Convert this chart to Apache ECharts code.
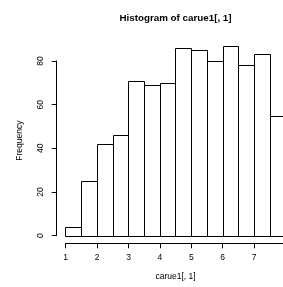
<!DOCTYPE html>
<html lang="en">
  <head>
    <meta charset="UTF-8">
    <title>Histogram</title>
    <style>
      html, body { margin: 0; padding: 0; background: #fff; }
      .chart { width: 283px; height: 287px; }
    </style>
  </head>
  <body>
    <div id="chart" class="chart"></div>
    <script src="https://cdn.jsdelivr.net/npm/echarts@6/dist/echarts.min.js"></script>
    <script type="text/javascript">
      // histogram bins (left edge, right edge) and counts
      var binStart = [1, 1.5, 2, 2.5, 3, 3.5, 4, 4.5, 5, 5.5, 6, 6.5, 7, 7.5];
      var binEnd = [1.5, 2, 2.5, 3, 3.5, 4, 4.5, 5, 5.5, 6, 6.5, 7, 7.5, 8];
      var counts = [4, 25, 42, 46, 71, 69, 70, 86, 85, 80, 87, 78, 83, 55];
      var yTicks = [0, 20, 40, 60, 80];
      var xTicks = [1, 2, 3, 4, 5, 6, 7, 8];

      var myChart = echarts.init(document.getElementById('chart'));
      var font = 'Liberation Sans, Arial, sans-serif';

      var barData = binStart.map(function (s, i) {
        return [s, binEnd[i], counts[i]];
      });

      option = {
        backgroundColor: '#fff',
        animation: false,
        grid: [
          // plot region (R usr: x 0.72..8.28, y -3.48..90.5), runs past the right edge
          { left: 56.7, width: 237.4, top: 38, height: 205.3, outerBoundsMode: 'none' },
          // y axis, drawn only from 0 to 80
          { left: 56.7, width: 10, top: 61, height: 174.7, outerBoundsMode: 'none' },
          // x axis, drawn only from 1 to 8
          { left: 65.7, width: 219.8, top: 242.3, height: 1, outerBoundsMode: 'none' }
        ],
        xAxis: [
          { gridIndex: 0, type: 'value', min: 0.72, max: 8.28, show: false },
          { gridIndex: 1, type: 'value', show: false },
          {
            gridIndex: 2, type: 'value', min: 1, max: 8, interval: 1,
            position: 'bottom',
            axisLine: { show: true, lineStyle: { color: '#000', width: 1 } },
            axisTick: { show: true, length: 5, lineStyle: { color: '#000' } },
            splitLine: { show: false },
            axisLabel: {
              margin: 10, color: '#000', fontSize: 8.5, fontFamily: font,
              formatter: function (v) { return xTicks.indexOf(v) >= 0 && v < 8 ? String(v) : ''; }
            }
          }
        ],
        yAxis: [
          { gridIndex: 0, type: 'value', min: -3.48, max: 90.5, show: false },
          {
            gridIndex: 1, type: 'value', min: 0, max: 80, interval: 20,
            axisLine: { show: true, lineStyle: { color: '#000', width: 1 } },
            axisTick: { show: true, length: 5, lineStyle: { color: '#000' } },
            splitLine: { show: false },
            axisLabel: {
              rotate: 90, margin: 12, color: '#000', fontSize: 8.5, fontFamily: font,
              formatter: function (v) { return yTicks.indexOf(v) >= 0 ? String(v) : ''; }
            }
          },
          { gridIndex: 2, type: 'value', show: false }
        ],
        graphic: [
          {
            type: 'text', x: 175.5, y: 18,
            style: {
              text: 'Histogram of carue1[, 1]', fill: '#000',
              font: 'bold 9.8px ' + font, textAlign: 'center', textVerticalAlign: 'middle'
            }
          },
          {
            type: 'text', x: 20, y: 140.7, rotation: Math.PI / 2,
            style: {
              text: 'Frequency', fill: '#000',
              font: '8.5px ' + font, textAlign: 'center', textVerticalAlign: 'middle'
            }
          },
          {
            type: 'text', x: 175.5, y: 277,
            style: {
              text: 'carue1[, 1]', fill: '#000',
              font: '8.5px ' + font, textAlign: 'center', textVerticalAlign: 'middle'
            }
          }
        ],
        series: [{
          type: 'custom',
          xAxisIndex: 0,
          yAxisIndex: 0,
          clip: false,
          data: barData,
          renderItem: function (params, api) {
            var p0 = api.coord([api.value(0), 0]);
            var p1 = api.coord([api.value(1), api.value(2)]);
            var x = Math.round(p0[0]) + 0.5;
            var x2 = Math.round(p1[0]) + 0.5;
            var y = Math.round(p1[1]) + 0.5;
            var y0 = Math.round(p0[1]) + 0.5;
            return {
              type: 'rect',
              shape: { x: x, y: y, width: x2 - x, height: y0 - y },
              style: { fill: '#fff', stroke: '#000', lineWidth: 1 }
            };
          }
        }]
      };

      myChart.setOption(option);
    </script>
  </body>
</html>
